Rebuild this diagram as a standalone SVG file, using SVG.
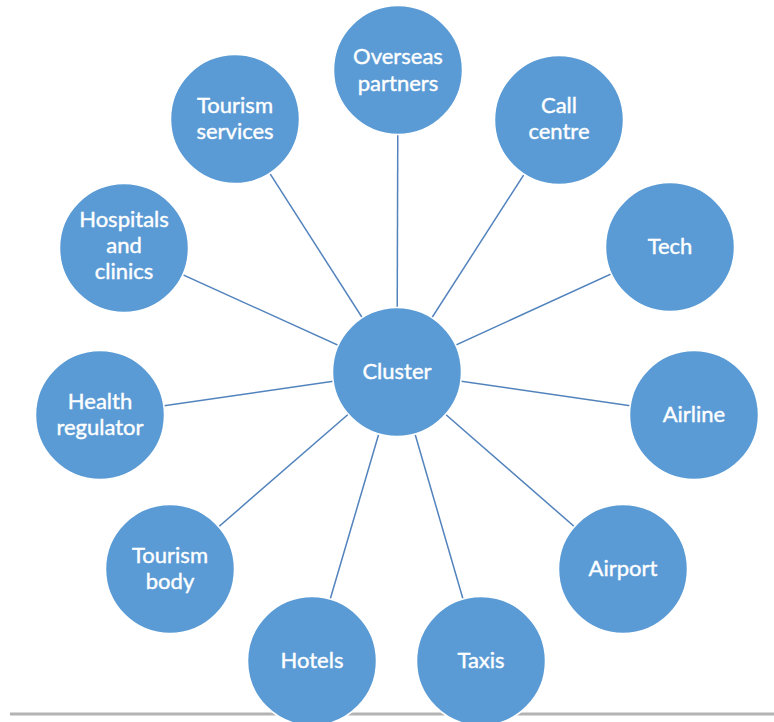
<svg xmlns="http://www.w3.org/2000/svg" width="774" height="722" viewBox="0 0 774 722">
<style>
.n circle{fill:#5b9bd5;stroke:#ffffff;stroke-width:1.5}
.n text{fill:#ffffff;stroke:#ffffff;stroke-width:0.4;font-family:Lato,"Open Sans","Liberation Sans",sans-serif;font-size:22px;text-anchor:middle}
#connectors line{stroke:#5283bd;stroke-width:1.5}
</style>
<rect width="774" height="722" fill="#ffffff"/>
<line x1="10" y1="714" x2="774" y2="714" stroke="#b3b3b3" stroke-width="3"/>
<g id="connectors">
<line x1="397" y1="372" x2="398" y2="70"/>
<line x1="397" y1="372" x2="235" y2="119"/>
<line x1="397" y1="372" x2="559" y2="120"/>
<line x1="397" y1="372" x2="124" y2="248"/>
<line x1="397" y1="372" x2="670" y2="247"/>
<line x1="397" y1="372" x2="100" y2="415"/>
<line x1="397" y1="372" x2="694" y2="415"/>
<line x1="397" y1="372" x2="170" y2="569"/>
<line x1="397" y1="372" x2="623" y2="569"/>
<line x1="397" y1="372" x2="312" y2="661"/>
<line x1="397" y1="372" x2="481" y2="661"/>
</g>
<g id="cluster" class="n"><circle cx="397" cy="372" r="64.5"/><text x="397" y="379">Cluster</text></g>
<g id="overseas" class="n"><circle cx="398" cy="70" r="64.5"/><text x="398" y="64">Overseas</text><text x="398" y="91">partners</text></g>
<g id="tourism-services" class="n"><circle cx="235" cy="119" r="64.5"/><text x="235" y="113">Tourism</text><text x="235" y="139">services</text></g>
<g id="call-centre" class="n"><circle cx="559" cy="120" r="64.5"/><text x="559" y="113">Call</text><text x="559" y="139">centre</text></g>
<g id="hospitals" class="n"><circle cx="124" cy="248" r="64.5"/><text x="124" y="227">Hospitals</text><text x="124" y="253">and</text><text x="124" y="279">clinics</text></g>
<g id="tech" class="n"><circle cx="670" cy="247" r="64.5"/><text x="670" y="254">Tech</text></g>
<g id="health-regulator" class="n"><circle cx="100" cy="415" r="64.5"/><text x="100" y="409">Health</text><text x="100" y="435">regulator</text></g>
<g id="airline" class="n"><circle cx="694" cy="415" r="64.5"/><text x="694" y="422">Airline</text></g>
<g id="tourism-body" class="n"><circle cx="170" cy="569" r="64.5"/><text x="170" y="563">Tourism</text><text x="170" y="589">body</text></g>
<g id="airport" class="n"><circle cx="623" cy="569" r="64.5"/><text x="623" y="576">Airport</text></g>
<g id="hotels" class="n"><circle cx="312" cy="661" r="64.5"/><text x="312" y="668">Hotels</text></g>
<g id="taxis" class="n"><circle cx="481" cy="661" r="64.5"/><text x="481" y="668">Taxis</text></g>
</svg>
